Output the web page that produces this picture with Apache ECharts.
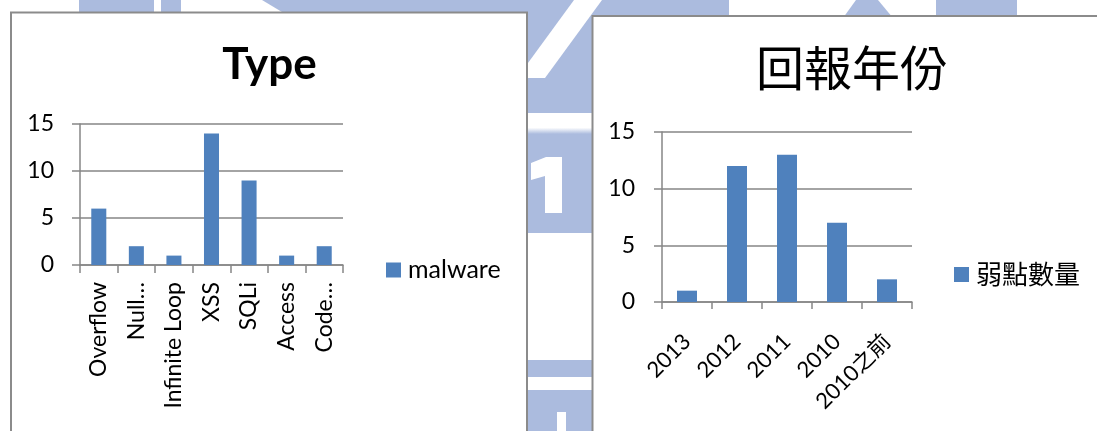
<!DOCTYPE html>
<html>
<head>
<meta charset="utf-8">
<script src="https://cdn.jsdelivr.net/npm/echarts@6/dist/echarts.min.js"></script>
<style>
html,body{margin:0;padding:0;background:#fff;}
#chart{width:1097px;height:431px;}
</style>
</head>
<body>
<div id="chart"></div>
<script>
// ---- data ----
const typeTitle = 'Type';
const typeCategories = ['Overflow', 'Null…', 'Infinite Loop', 'XSS', 'SQLi', 'Access', 'Code…'];
const typeSeriesName = 'malware';
const typeValues = [6, 2, 1, 14, 9, 1, 2];

const yearTitle = '回報年份';
const yearCategories = ['2013', '2012', '2011', '2010', '2010之前'];
const yearSeriesName = '弱點數量';
const yearValues = [1, 12, 13, 7, 2];

const yTicks = { min: 0, max: 15, interval: 5 };

// ---- styles ----
const LATIN = 'Lato, "Noto Sans", sans-serif';
const CJK = '"Noto Sans CJK TC", "Noto Sans CJK SC", sans-serif';
const AXIS = '#868686';
const BAR = '#4f81bd';
const WM = '#abbbde';

const chart = echarts.init(document.getElementById('chart'), null, { renderer: 'canvas' });

function wmRect(x, y, w, h, fill) {
  return { type: 'rect', silent: true, z: -3, shape: { x, y, width: w, height: h }, style: { fill: fill || WM } };
}
function wmPoly(points, fill) {
  return { type: 'polygon', silent: true, z: -2, shape: { points }, style: { fill: fill || WM } };
}

const graphics = [
  // watermark (background decoration)
  wmRect(79, 0, 75, 18),
  wmRect(161, 0, 20, 18),
  wmPoly([[262, 0], [600, 0], [600, 18], [292, 18]]),
  wmRect(600, 0, 129, 18),
  wmPoly([[856, 0], [878, 0], [893, 18], [843, 18]]),
  wmRect(936, 0, 81, 18),
  wmRect(520, 0, 80, 233),
  wmPoly([[574, 0], [602, 0], [545, 78], [517, 78]], '#ffffff'),
  { type: 'rect', silent: true, z: -2, shape: { x: 520, y: 113, width: 80, height: 21 },
    style: { fill: new echarts.graphic.LinearGradient(0, 0, 0, 1, [
      { offset: 0, color: '#ffffff' }, { offset: 0.7, color: '#ffffff' }, { offset: 1, color: WM }]) } },
  wmPoly([[531, 163], [546, 157], [562, 157], [562, 213], [545, 213], [545, 176], [531, 180]], '#ffffff'),
  wmRect(520, 360, 80, 17),
  wmRect(520, 390, 80, 41),
  wmRect(557, 412, 9, 19, '#ffffff'),
  // panels
  { type: 'rect', silent: true, z: -1, shape: { x: 11, y: 12.5, width: 516, height: 440 },
    style: { fill: '#ffffff', stroke: '#8b8b8b', lineWidth: 2 } },
  { type: 'rect', silent: true, z: -1, shape: { x: 592.5, y: 16, width: 540, height: 440 },
    style: { fill: '#ffffff', stroke: '#8b8b8b', lineWidth: 2 } },
  // titles
  { type: 'text', z: 5, x: 269.5, y: 65, style: { text: typeTitle, font: 'bold 44px ' + LATIN, fill: '#000', align: 'center', verticalAlign: 'middle' } },
  { type: 'text', z: 5, x: 852, y: 68, style: { text: yearTitle, font: '48px ' + CJK, fill: '#000', align: 'center', verticalAlign: 'middle' } }
];

function yAxisCfg(gridIndex, margin) {
  return {
    type: 'value', gridIndex,
    min: yTicks.min, max: yTicks.max, interval: yTicks.interval,
    axisLine: { show: true, lineStyle: { color: AXIS, width: 1.5 } },
    axisTick: { show: true, length: 8, lineStyle: { color: AXIS, width: 1.5 } },
    splitLine: { show: true, lineStyle: { color: AXIS, width: 1.5 } },
    axisLabel: { margin, color: '#000', fontSize: 23, fontFamily: LATIN }
  };
}

const option = {
  backgroundColor: '#ffffff',
  animation: false,
  graphic: graphics,
  grid: [
    { left: 80, top: 124, width: 263, height: 141, containLabel: false },
    { left: 662, top: 132, width: 250, height: 170, containLabel: false }
  ],
  legend: [
    { data: [typeSeriesName], left: 386, top: 257.5, padding: 0, itemWidth: 15, itemHeight: 15,
      icon: 'rect', textStyle: { fontSize: 25, fontFamily: LATIN, color: '#000', padding: [0, 0, 0, 2] } },
    { data: [yearSeriesName], left: 954, top: 261.5, padding: 0, itemWidth: 15, itemHeight: 15,
      icon: 'rect', textStyle: { fontSize: 26, fontFamily: CJK, color: '#000', padding: [0, 0, 0, 2] } }
  ],
  xAxis: [
    { type: 'category', gridIndex: 0, data: typeCategories,
      axisLine: { lineStyle: { color: AXIS, width: 1.5 } },
      axisTick: { show: true, length: 8, interval: 0, lineStyle: { color: AXIS, width: 1.5 } },
      axisLabel: { interval: 0, rotate: 90, margin: 17, color: '#000', fontSize: 23, fontFamily: LATIN } },
    { type: 'category', gridIndex: 1, data: yearCategories,
      axisLine: { lineStyle: { color: AXIS, width: 1.5 } },
      axisTick: { show: true, length: 7, interval: 0, lineStyle: { color: AXIS, width: 1.5 } },
      axisLabel: { interval: 0, rotate: 45, margin: 36, color: '#000', fontSize: 22, fontFamily: LATIN + ', ' + CJK } }
  ],
  yAxis: [yAxisCfg(0, 26), yAxisCfg(1, 27)],
  series: [
    { name: typeSeriesName, type: 'bar', xAxisIndex: 0, yAxisIndex: 0, data: typeValues,
      barWidth: '40%', itemStyle: { color: BAR } },
    { name: yearSeriesName, type: 'bar', xAxisIndex: 1, yAxisIndex: 1, data: yearValues,
      barWidth: '40%', itemStyle: { color: BAR } }
  ]
};
chart.setOption(option);
</script>
</body>
</html>
